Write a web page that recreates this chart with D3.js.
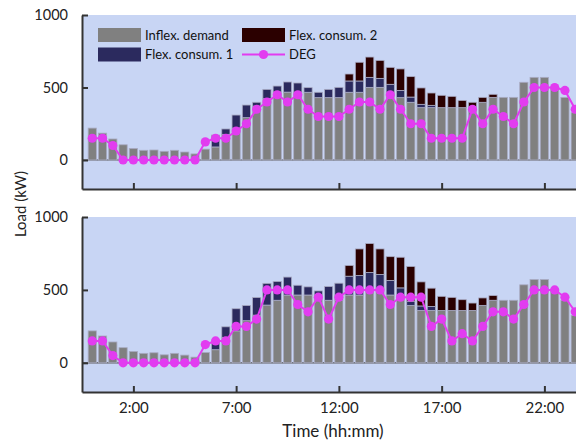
<!DOCTYPE html>
<html>
<head>
<meta charset="utf-8">
<script src="https://cdn.jsdelivr.net/npm/d3@7"></script>
<style>
  body { margin: 0; background: #fff; }
  svg { display: block; font-family: Lato, "Open Sans", sans-serif; }
</style>
</head>
<body>
<script>
// half-hourly slots, 0:00 .. 23:30
var hours = d3.range(48).map(function (i) { return i / 2; });
var tickHours = [2, 7, 12, 17, 22];
var yTicks = [0, 500, 1000];
var seriesNames = ["Inflex. demand", "Flex. consum. 1", "Flex. consum. 2", "DEG"];

// upper panel (kW)
var inflexA = [220,185,145,105,80,67,69,60,67,55,42,75,90,177,220,292,372,423,469,468,467,467,430,430,
               430,467,467,501,501,467,430,398,361,361,361,361,361,370,398,432,432,432,536,570,570,500,432,326];
var flex1A  = [0,0,0,0,0,0,0,0,0,0,0,0,82,37,90,87,26,64,41,70,64,32,37,57,
               71,78,78,69,62,55,50,36,23,16,0,0,0,0,0,0,0,0,0,0,0,0,0,0];
var flex2A  = [0,0,0,0,0,0,0,0,0,0,0,0,0,0,0,0,0,0,0,0,0,0,0,0,
               0,48,129,140,124,117,148,141,113,85,85,78,50,28,34,21,0,0,0,0,0,0,0,0];
var degA    = [150,150,100,0,0,0,0,0,0,0,0,125,150,150,200,250,350,400,450,400,450,350,300,300,
               300,350,400,400,350,450,350,250,250,150,150,150,150,350,250,350,300,250,400,500,500,500,480,350];

// lower panel (kW)
var inflexB = [219,184,143,104,78,65,69,55,65,53,39,71,90,175,219,289,327,396,429,465,465,465,465,429,
               429,465,465,500,500,465,465,394,359,359,359,359,359,359,394,429,429,429,535,571,571,500,429,325];
var flex1B  = [0,0,0,0,0,0,0,0,0,0,0,0,50,72,152,104,121,149,129,123,67,56,28,94,
               117,129,134,120,106,100,49,28,31,28,0,0,0,0,0,0,0,0,0,0,0,0,0,0];
var flex2B  = [0,0,0,0,0,0,0,0,0,0,0,0,0,0,0,0,0,0,0,0,0,0,0,0,
               0,74,182,198,175,163,210,239,165,125,97,90,74,51,51,32,0,0,0,0,0,0,0,0];
var degB    = [150,150,50,0,0,0,0,0,0,0,0,125,150,150,250,250,300,500,500,500,400,350,450,300,
               450,500,500,500,500,400,450,450,450,250,300,150,200,150,250,350,350,300,400,500,500,500,450,350];

var width = 576, height = 446;
var colors = ["#808080", "#2b2a5e", "#2b0000"];
var degColor = "#e23cf0";

var svg = d3.select("body").append("svg")
    .attr("width", width)
    .attr("height", height);

var x = d3.scaleLinear().domain([-0.5, 24]).range([82, 585.5]);
var barW = 8.2;

function drawPanel(top, bottom, inflex, flex1, flex2, deg, showLabels) {
    var y = d3.scaleLinear().domain([-200, 1000]).range([bottom, top]);
    var g = svg.append("g");

    g.append("rect")
        .attr("x", x(-0.5)).attr("y", top)
        .attr("width", x(24) - x(-0.5)).attr("height", bottom - top)
        .attr("fill", "#c8d5f4");

    g.append("line")
        .attr("x1", x(-0.5)).attr("x2", x(24))
        .attr("y1", y(0)).attr("y2", y(0))
        .attr("stroke", "#555").attr("stroke-width", 1.2);

    var rows = hours.map(function (h, i) {
        return { h: h, a: inflex[i], b: flex1[i], c: flex2[i] };
    });
    var stacked = d3.stack().keys(["a", "b", "c"])(rows);

    stacked.forEach(function (layer, k) {
        g.append("g").selectAll("rect")
            .data(layer.filter(function (d) { return d[1] > d[0]; }))
            .join("rect")
            .attr("x", function (d) { return x(d.data.h) - barW / 2; })
            .attr("width", barW)
            .attr("y", function (d) { return y(d[1]); })
            .attr("height", function (d) { return y(d[0]) - y(d[1]); })
            .attr("fill", colors[k])
            .attr("stroke", "#a9abc3")
            .attr("stroke-width", 0.8);
    });

    var line = d3.line()
        .x(function (d, i) { return x(hours[i]); })
        .y(function (d) { return y(d); });

    g.append("path")
        .datum(deg)
        .attr("d", line)
        .attr("fill", "none")
        .attr("stroke", degColor)
        .attr("stroke-width", 2);

    g.append("g").selectAll("circle")
        .data(deg)
        .join("circle")
        .attr("cx", function (d, i) { return x(hours[i]); })
        .attr("cy", function (d) { return y(d); })
        .attr("r", 4.6)
        .attr("fill", degColor);

    var yAxis = g.append("g")
        .attr("transform", "translate(" + x(-0.5) + ",0)")
        .call(d3.axisLeft(y).tickValues(yTicks).tickSize(-6).tickSizeOuter(0).tickPadding(14)
            .tickFormat(d3.format("d")));
    yAxis.selectAll("text").attr("font-size", 14.5).attr("fill", "#222").attr("font-family", "Lato");
    yAxis.selectAll("line").attr("stroke", "#333").attr("stroke-width", 2);
    yAxis.select(".domain").attr("stroke", "#333").attr("stroke-width", 2);

    var xAxis = g.append("g")
        .attr("transform", "translate(0," + bottom + ")")
        .call(d3.axisBottom(x).tickValues(tickHours).tickSize(-6).tickSizeOuter(0).tickPadding(10)
            .tickFormat(function (d) { return showLabels ? d + ":00" : ""; }));
    xAxis.selectAll("text").attr("font-size", 15).attr("fill", "#222").attr("font-family", "Lato");
    xAxis.selectAll("line").attr("stroke", "#333").attr("stroke-width", 2);
    xAxis.select(".domain").attr("stroke", "#333").attr("stroke-width", 2);

    return y;
}

drawPanel(15, 189, inflexA, flex1A, flex2A, degA, false);
drawPanel(217, 392, inflexB, flex1B, flex2B, degB, true);

// legend (upper panel)
var legend = svg.append("g").attr("font-size", 13).attr("fill", "#111");
var legendItems = [
    { name: seriesNames[0], col: 0, row: 0, type: "box", color: colors[0] },
    { name: seriesNames[1], col: 0, row: 1, type: "box", color: colors[1] },
    { name: seriesNames[2], col: 1, row: 0, type: "box", color: colors[2] },
    { name: seriesNames[3], col: 1, row: 1, type: "line", color: degColor }
];
legendItems.forEach(function (d) {
    var lx = d.col === 0 ? 98 : 242;
    var ly = d.row === 0 ? 35 : 54.5;
    if (d.type === "box") {
        legend.append("rect")
            .attr("x", lx).attr("y", ly - 7)
            .attr("width", 43).attr("height", 14)
            .attr("fill", d.color);
    } else {
        legend.append("line")
            .attr("x1", lx).attr("x2", lx + 43)
            .attr("y1", ly).attr("y2", ly)
            .attr("stroke", d.color).attr("stroke-width", 2);
        legend.append("circle")
            .attr("cx", lx + 21.5).attr("cy", ly).attr("r", 4.6)
            .attr("fill", d.color);
    }
    legend.append("text")
        .attr("x", lx + 47).attr("y", ly)
        .attr("dy", "0.35em")
        .text(d.name);
});

svg.append("text")
    .attr("transform", "translate(26,204) rotate(-90)")
    .attr("text-anchor", "middle")
    .attr("font-size", 15)
    .attr("fill", "#222")
    .text("Load (kW)");

svg.append("text")
    .attr("x", 333).attr("y", 437)
    .attr("text-anchor", "middle")
    .attr("font-size", 17)
    .attr("fill", "#222")
    .text("Time (hh:mm)");
</script>
</body>
</html>
